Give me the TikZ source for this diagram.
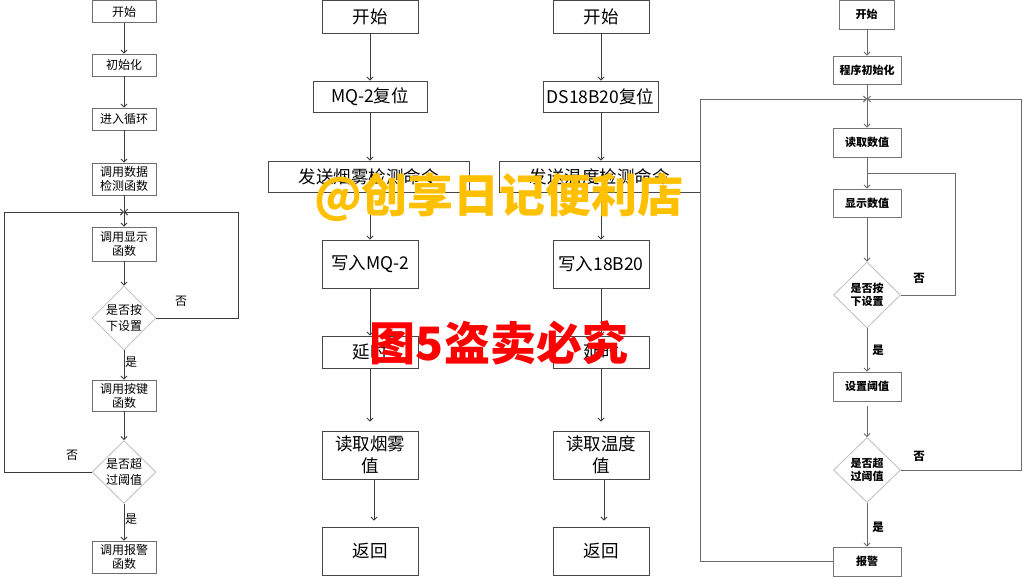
\documentclass[tikz,border=0pt]{standalone}
\usepackage{fontspec}
\setmainfont{Noto Sans CJK SC}
\usetikzlibrary{shapes.geometric,arrows.meta}
\definecolor{boxa}{HTML}{6E6E6E}
\definecolor{boxb}{HTML}{474747}
\definecolor{boxd}{HTML}{767676}
\definecolor{diac}{HTML}{BDBDBD}
\definecolor{linec}{HTML}{3C3C3C}
\definecolor{lined}{HTML}{6A6A6A}
\definecolor{wmyellow}{HTML}{FFC000}
\definecolor{wmred}{HTML}{FF0000}
\begin{document}
\begin{tikzpicture}[x=1pt,y=-1pt,
  boxA/.style={draw=boxa,line width=0.9pt,fill=white,inner sep=0pt,align=center,
    font=\fontsize{12}{14}\selectfont,minimum width=64pt},
  boxB/.style={draw=boxb,line width=0.9pt,fill=white,inner sep=0pt,align=center,
    font=\fontsize{17.5}{22}\selectfont,minimum width=96pt,minimum height=48pt},
  boxD/.style={draw=boxd,line width=0.9pt,fill=white,inner sep=0pt,align=center,
    font=\bfseries\fontsize{11}{12.5}\selectfont,minimum width=68pt,minimum height=29pt},
  diaA/.style={diamond,aspect=1,draw=diac,line width=0.8pt,fill=white,inner sep=0pt,align=center,
    font=\fontsize{12}{15.5}\selectfont,minimum width=64pt,minimum height=64pt},
  diaD/.style={diamond,aspect=1,draw=diac,line width=0.8pt,fill=white,inner sep=0pt,align=center,
    font=\bfseries\fontsize{11}{12.5}\selectfont,minimum width=67pt,minimum height=66pt},
  arr/.style={draw=linec,line width=0.9pt,-{Straight Barb[length=3pt,width=6pt]}},
  ln/.style={draw=linec,line width=0.9pt},
  arrd/.style={draw=lined,line width=0.9pt,-{Straight Barb[length=3pt,width=6pt]}},
  lnd/.style={draw=lined,line width=0.9pt},
  labA/.style={inner sep=0pt,font=\fontsize{12}{14}\selectfont},
  labD/.style={inner sep=0pt,font=\bfseries\fontsize{11.5}{13}\selectfont},
  wm/.style={inner sep=0pt,font=\bfseries\fontsize{46}{46}\selectfont}
]
\path[fill=white,use as bounding box] (0,0) rectangle (1024,576);

% ---------- chart 1 ----------
\node[boxA,minimum height=22pt] (a1) at (124,11.5) {开始};
\node[boxA,minimum height=22pt] (a2) at (124,65) {初始化};
\node[boxA,minimum height=22pt] (a3) at (124,119) {进入循环};
\node[boxA,minimum height=32pt] (a4) at (124,179) {调用数据\\检测函数};
\node[boxA,minimum height=34pt] (a5) at (124,244) {调用显示\\函数};
\node[diaA] (a6) at (124,318) {是否按\\下设置};
\node[boxA,minimum height=31pt] (a7) at (124,395.5) {调用按键\\函数};
\node[diaA,minimum height=63pt] (a8) at (124,472) {是否超\\过阈值};
\node[boxA,minimum height=32pt] (a9) at (124,557) {调用报警\\函数};
\coordinate (j1) at (124,212);

\draw[arr] (a1) -- (a2);
\draw[arr] (a2) -- (a3);
\draw[arr] (a3) -- (a4);
\draw[arr] (a4) -- (a5);
\draw[arr] (a5) -- (a6);
\draw[arr] (a6) -- (a7);
\draw[arr] (a7) -- (a8);
\draw[arr] (a8) -- (a9);
\draw[arr] (a6.east) -- ++(82,0) |- (j1);
\draw[arr] (a8.west) -- ++(-87,0) |- (j1);
\node[labA] (l1) at (181,301) {否};
\node[labA] (l2) at (131,362) {是};
\node[labA] (l3) at (72,455) {否};
\node[labA] (l4) at (131,519) {是};

% ---------- chart 2 ----------
\node[boxB,minimum height=33pt] (b1) at (370,16.5) {开始};
\node[boxB,minimum width=114pt,minimum height=31pt] (b2) at (370,96.5) {MQ-2复位};
\node[boxB,minimum width=201pt,minimum height=31pt] (b3) at (368.5,176.5) {发送烟雾检测命令};
\node[boxB] (b4) at (370,264) {写入MQ-2};
\node[boxB,minimum height=32pt] (b5) at (370,352) {延时};
\node[boxB] (b6) at (370,455) {读取烟雾\\值};
\node[boxB] (b7) at (370,551) {返回};
\draw[arr] (b1) -- (b2);
\draw[arr] (b2) -- (b3.north -| b2);
\draw[arr] (b3.south -| b2) -- (b4);
\draw[arr] (b4) -- (b5);
\draw[arr] (b5) -- ([yshift=9pt]b6.north);
\draw[arr] ([xshift=4pt]b6.south) -- ([xshift=4pt,yshift=6pt]b7.north);

% ---------- chart 3 ----------
\node[boxB,minimum height=33pt] (c1) at (601,16.5) {开始};
\node[boxB,minimum width=115pt,minimum height=31pt] (c2) at (600.5,96.5) {DS18B20复位};
\node[boxB,minimum width=201pt,minimum height=31pt] (c3) at (599.5,176.5) {发送温度检测命令};
\node[boxB] (c4) at (601,264) {写入18B20};
\node[boxB,minimum height=32pt] (c5) at (601,352) {延时};
\node[boxB] (c6) at (601,455) {读取温度\\值};
\node[boxB] (c7) at (601,551) {返回};
\draw[arr] (c1) -- (c1 |- c2.north);
\draw[arr] (c2.south -| c1) -- (c3.north -| c1);
\draw[arr] (c3.south -| c1) -- (c4);
\draw[arr] (c4) -- (c5);
\draw[arr] (c5) -- ([yshift=9pt]c6.north);
\draw[arr] ([xshift=3pt]c6.south) -- ([xshift=3pt,yshift=6pt]c7.north);

% ---------- chart 4 ----------
\node[boxD,minimum width=55pt] (d1) at (866.5,14.5) {开始};
\node[boxD,minimum height=28pt] (d2) at (867,70) {程序初始化};
\node[boxD] (d3) at (867,142.5) {读取数值};
\node[boxD,minimum height=28pt] (d4) at (867,203) {显示数值};
\node[diaD] (d5) at (867,295) {是否按\\下设置};
\node[boxD] (d6) at (867,386.5) {设置阈值};
\node[diaD,minimum height=65pt] (d7) at (867,470) {是否超\\过阈值};
\node[boxD] (d8) at (867,561.5) {报警};
\coordinate (j4) at (867,99);
\coordinate (j5) at (867,173);
\draw[arrd] (d1.south -| d2) -- (d2);
\draw[arrd] (d2) -- (d3);
\draw[arrd] (d3) -- (d4);
\draw[arrd] (d4) -- (d5);
\draw[arrd] (d5) -- (d6);
\draw[arrd] ([yshift=-5pt]d6.south) -- (d7);
\draw[arrd] (d7) -- (d8);
\draw[lnd] (d5.east) -- ++(55,0) |- (j5);
\draw[arrd] (d7.east) -- ++(121,0) |- (j4);
\draw[arrd] (d8.west) -- ++(-132,0) |- (j4);
\node[labD] (m1) at (919,278) {否};
\node[labD] (m2) at (878,350) {是};
\node[labD] (m3) at (919,456) {否};
\node[labD] (m4) at (878,527) {是};

% ---------- watermarks ----------
\node[wm,text=wmyellow] (w1) at (499,197) {@创享日记便利店};
\node[wm,text=wmred] (w2) at (499,343) {图5盗卖必究};
\end{tikzpicture}
\end{document}
